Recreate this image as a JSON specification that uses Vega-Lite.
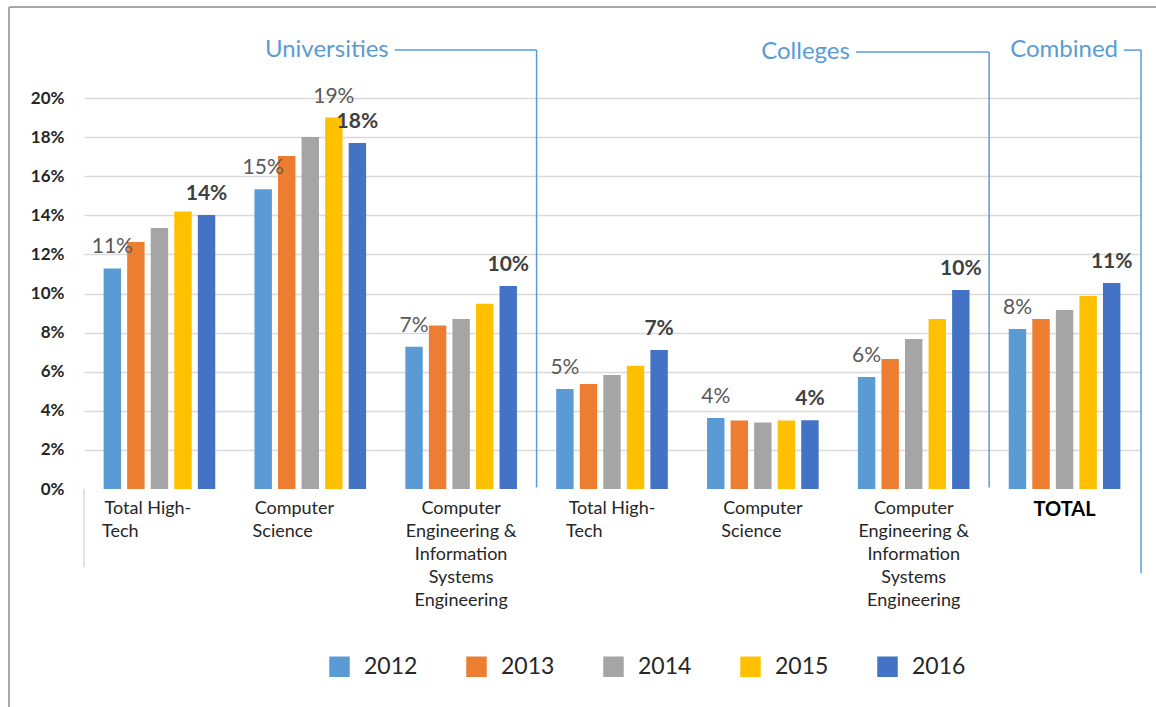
{
  "$schema": "https://vega.github.io/schema/vega-lite/v6.json",
  "width": 1056,
  "height": 391,
  "autosize": {"type": "none"},
  "padding": {"left": 84, "top": 98, "right": 16, "bottom": 218},
  "background": "white",
  "config": {"view": {"stroke": null}, "font": "Lato"},
  "datasets": {
    "rates": [
      {"cat": "U1", "year": "2012", "value": 0.1128, "lab": "n"},
      {"cat": "U1", "year": "2013", "value": 0.1263},
      {"cat": "U1", "year": "2014", "value": 0.1335},
      {"cat": "U1", "year": "2015", "value": 0.1420},
      {"cat": "U1", "year": "2016", "value": 0.1402, "lab": "b"},
      {"cat": "U2", "year": "2012", "value": 0.1533, "lab": "n"},
      {"cat": "U2", "year": "2013", "value": 0.1703},
      {"cat": "U2", "year": "2014", "value": 0.1800},
      {"cat": "U2", "year": "2015", "value": 0.1900, "lab": "n"},
      {"cat": "U2", "year": "2016", "value": 0.1770, "lab": "b"},
      {"cat": "U3", "year": "2012", "value": 0.0728, "lab": "n"},
      {"cat": "U3", "year": "2013", "value": 0.0836},
      {"cat": "U3", "year": "2014", "value": 0.0870},
      {"cat": "U3", "year": "2015", "value": 0.0948},
      {"cat": "U3", "year": "2016", "value": 0.1038, "lab": "b"},
      {"cat": "C1", "year": "2012", "value": 0.0512, "lab": "n"},
      {"cat": "C1", "year": "2013", "value": 0.0537},
      {"cat": "C1", "year": "2014", "value": 0.0583},
      {"cat": "C1", "year": "2015", "value": 0.0630},
      {"cat": "C1", "year": "2016", "value": 0.0711, "lab": "b"},
      {"cat": "C2", "year": "2012", "value": 0.0363, "lab": "n"},
      {"cat": "C2", "year": "2013", "value": 0.0350},
      {"cat": "C2", "year": "2014", "value": 0.0340},
      {"cat": "C2", "year": "2015", "value": 0.0350},
      {"cat": "C2", "year": "2016", "value": 0.0352, "lab": "b"},
      {"cat": "C3", "year": "2012", "value": 0.0573, "lab": "n"},
      {"cat": "C3", "year": "2013", "value": 0.0665},
      {"cat": "C3", "year": "2014", "value": 0.0767},
      {"cat": "C3", "year": "2015", "value": 0.0870},
      {"cat": "C3", "year": "2016", "value": 0.1018, "lab": "b"},
      {"cat": "T", "year": "2012", "value": 0.0818, "lab": "n"},
      {"cat": "T", "year": "2013", "value": 0.0870},
      {"cat": "T", "year": "2014", "value": 0.0916},
      {"cat": "T", "year": "2015", "value": 0.0987},
      {"cat": "T", "year": "2016", "value": 0.1054, "lab": "b"}
    ],
    "lines": [
      {"kind": "bracket", "x": 2.06, "x2": 3.0, "y": 0.2245, "y2": 0.2245},
      {"kind": "bracket", "x": 3.0, "x2": 3.0, "y": 0.2245, "y2": 0.0008},
      {"kind": "bracket", "x": 5.117, "x2": 6.0, "y": 0.2235, "y2": 0.2235},
      {"kind": "bracket", "x": 6.0, "x2": 6.0, "y": 0.2235, "y2": 0.0008},
      {"kind": "bracket", "x": 6.894, "x2": 7.007, "y": 0.2245, "y2": 0.2245},
      {"kind": "bracket", "x": 7.007, "x2": 7.007, "y": 0.2245, "y2": -0.043},
      {"kind": "axis", "x": 0, "x2": 0, "y": 0, "y2": -0.04},
      {"kind": "frame", "x": -0.497, "x2": -0.497, "y": 0.2465, "y2": -0.12},
      {"kind": "frame", "x": -0.497, "x2": 7.2, "y": 0.2465, "y2": 0.2465}
    ],
    "headers": [
      {"label": "Universities", "x": 2.06, "y": 0.2245},
      {"label": "Colleges", "x": 5.117, "y": 0.2235},
      {"label": "Combined", "x": 6.894, "y": 0.2245}
    ]
  },
  "layer": [
    {
      "data": {"name": "rates"},
      "encoding": {
        "x": {
          "field": "cat",
          "type": "nominal",
          "sort": null,
          "scale": {"paddingInner": 0.26, "paddingOuter": 0.13},
          "axis": {
            "title": null,
            "domain": false,
            "ticks": false,
            "labelAngle": 0,
            "labelFontSize": {"condition": {"test": "datum.value == 'T'", "value": 20}, "value": 18},
            "labelFontWeight": {"condition": {"test": "datum.value == 'T'", "value": "bold"}, "value": "normal"},
            "labelColor": {"condition": {"test": "datum.value == 'T'", "value": "#000000"}, "value": "#262626"},
            "labelPadding": 10,
            "labelBaseline": "top",
            "labelLineHeight": 23,
            "labelLimit": 0,
            "labelExpr": "datum.value == 'U1' ? ['Total High-\u00a0\u00a0\u00a0\u00a0\u00a0\u200b', 'Tech\u00a0\u00a0\u00a0\u00a0\u00a0\u00a0\u00a0\u00a0\u00a0\u00a0\u00a0\u00a0\u00a0\u00a0\u00a0\u00a0\u00a0\u200b'] : datum.value == 'C1' ? ['Total High-', 'Tech\u00a0\u00a0\u00a0\u00a0\u00a0\u00a0\u00a0\u00a0\u00a0\u00a0\u00a0\u00a0\u200b'] : datum.value == 'U2' ? ['Computer\u00a0\u00a0\u00a0\u00a0\u00a0\u00a0\u00a0\u200b', 'Science\u00a0\u00a0\u00a0\u00a0\u00a0\u00a0\u00a0\u00a0\u00a0\u00a0\u00a0\u00a0\u200b'] : datum.value == 'C2' ? ['Computer', 'Science\u00a0\u00a0\u00a0\u00a0\u00a0\u200b'] : (datum.value == 'U3' || datum.value == 'C3') ? ['Computer', 'Engineering &', 'Information', 'Systems', 'Engineering'] : 'TOTAL'"
          }
        },
        "xOffset": {"field": "year", "type": "nominal", "scale": {"paddingInner": 0.26, "paddingOuter": 0}},
        "y": {
          "field": "value",
          "type": "quantitative",
          "scale": {"domain": [0, 0.2], "nice": false},
          "axis": {
            "title": null,
            "domain": false,
            "ticks": false,
            "values": [0, 0.02, 0.04, 0.06, 0.08, 0.1, 0.12, 0.14, 0.16, 0.18, 0.2],
            "format": ".0%",
            "labelFontSize": 17,
            "labelFontWeight": "bold",
            "labelColor": "#262626",
            "labelPadding": 20,
            "gridColor": "#d9d9d9",
            "gridWidth": 1.5,
            "gridOpacity": {"condition": {"test": "datum.value == 0", "value": 0}, "value": 1}
          }
        }
      },
      "layer": [
        {
          "mark": {"type": "bar"},
          "encoding": {
            "color": {
              "field": "year",
              "type": "nominal",
              "scale": {"domain": ["2012", "2013", "2014", "2015", "2016"], "range": ["#5b9bd5", "#ed7d31", "#a5a5a5", "#ffc000", "#4472c4"]},
              "legend": {
                "orient": "none",
                "legendX": 244,
                "legendY": 557,
                "direction": "horizontal",
                "title": null,
                "symbolType": "square",
                "symbolSize": 420,
                "symbolStrokeWidth": 0,
                "labelFontSize": 23,
                "labelColor": "#262626",
                "labelOffset": 13,
                "columnPadding": 47,
                "padding": 0
              }
            }
          }
        },
        {
          "transform": [{"filter": "datum.lab == 'n'"}],
          "mark": {"type": "text", "baseline": "alphabetic", "dy": -15, "fontSize": 21, "color": "#595959"},
          "encoding": {"text": {"field": "value", "type": "quantitative", "format": ".0%"}}
        },
        {
          "transform": [{"filter": "datum.lab == 'b'"}],
          "mark": {"type": "text", "baseline": "alphabetic", "dy": -15, "fontSize": 21, "fontWeight": "bold", "color": "#404040"},
          "encoding": {"text": {"field": "value", "type": "quantitative", "format": ".0%"}}
        }
      ]
    },
    {
      "data": {"name": "lines"},
      "transform": [{"filter": "datum.kind == 'bracket'"}],
      "mark": {"type": "rule", "color": "#5b9bd5", "strokeWidth": 1.5},
      "encoding": {
        "x": {"field": "x", "type": "quantitative", "scale": {"domain": [0, 7], "nice": false, "zero": false}, "axis": null},
        "x2": {"field": "x2"},
        "y": {"field": "y", "type": "quantitative", "scale": {"domain": [0, 0.2], "nice": false}, "axis": null},
        "y2": {"field": "y2"}
      }
    },
    {
      "data": {"name": "lines"},
      "transform": [{"filter": "datum.kind == 'axis'"}],
      "mark": {"type": "rule", "color": "#d9d9d9", "strokeWidth": 1.5},
      "encoding": {
        "x": {"field": "x", "type": "quantitative", "scale": {"domain": [0, 7], "nice": false, "zero": false}, "axis": null},
        "x2": {"field": "x2"},
        "y": {"field": "y", "type": "quantitative", "scale": {"domain": [0, 0.2], "nice": false}, "axis": null},
        "y2": {"field": "y2"}
      }
    },
    {
      "data": {"name": "lines"},
      "transform": [{"filter": "datum.kind == 'frame'"}],
      "mark": {"type": "rule", "color": "#a6a6a6", "strokeWidth": 2},
      "encoding": {
        "x": {"field": "x", "type": "quantitative", "scale": {"domain": [0, 7], "nice": false, "zero": false}, "axis": null},
        "x2": {"field": "x2"},
        "y": {"field": "y", "type": "quantitative", "scale": {"domain": [0, 0.2], "nice": false}, "axis": null},
        "y2": {"field": "y2"}
      }
    },
    {
      "data": {"name": "headers"},
      "mark": {"type": "text", "align": "right", "baseline": "middle", "dx": -6, "fontSize": 24, "color": "#5b9bd5"},
      "encoding": {
        "x": {"field": "x", "type": "quantitative", "scale": {"domain": [0, 7], "nice": false, "zero": false}, "axis": null},
        "y": {"field": "y", "type": "quantitative", "scale": {"domain": [0, 0.2], "nice": false}, "axis": null},
        "text": {"field": "label", "type": "nominal"}
      }
    }
  ],
  "resolve": {"scale": {"x": "independent", "y": "independent", "color": "independent"}}
}
